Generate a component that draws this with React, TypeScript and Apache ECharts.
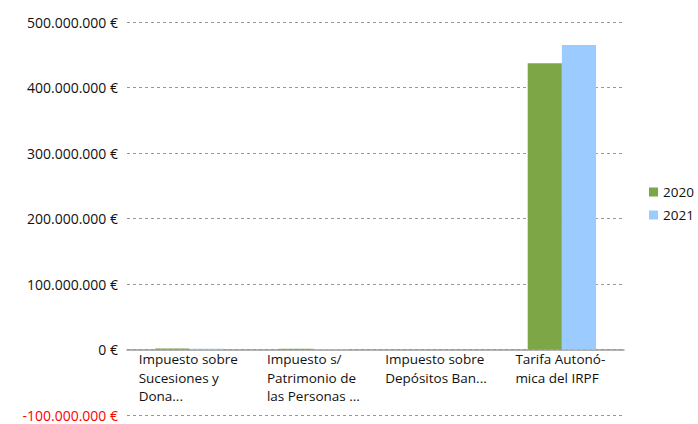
import React, { useEffect, useRef } from "react";
import * as echarts from "echarts";

const categories = [
  ["Impuesto sobre", "Sucesiones y", "Dona..."],
  ["Impuesto s/", "Patrimonio de", "las Personas ..."],
  ["Impuesto sobre", "Depósitos Ban..."],
  ["Tarifa Autonó-", "mica del IRPF"],
];
const seriesNames = ["2020", "2021"];
const values2020 = [1500000, 1200000, 0, 437000000];
const values2021 = [1000000, 800000, 0, 465000000];
const yTicks = { min: -100000000, max: 500000000, interval: 100000000 };

const FONT = "Open Sans";

function fmt(v: number): string {
  const s = Math.abs(v).toString().replace(/\B(?=(\d{3})+(?!\d))/g, ".");
  return (v < 0 ? "-" : "") + s + " €";
}

const labelWidths = [101, 93, 105, 93];

export default function App() {
  const ref = useRef<HTMLDivElement>(null);
  useEffect(() => {
    if (!ref.current) return;
    const chart = echarts.init(ref.current, null, { renderer: "svg" });
    const rich: Record<string, any> = {};
    labelWidths.forEach((w, i) => {
      rich["c" + i] = {
        width: w,
        align: "left",
        fontFamily: FONT,
        fontSize: 13.5,
        color: "#111",
        lineHeight: 18.5,
      };
    });
    chart.setOption({
      animation: false,
      grid: {
        left: 127,
        right: 74,
        top: 22,
        bottom: 9,
        containLabel: false,
        outerBoundsMode: "none",
      },
      legend: {
        orient: "vertical",
        left: 644,
        top: 180,
        itemWidth: 9,
        itemHeight: 9,
        itemGap: 9,
        icon: "rect",
        textStyle: { fontFamily: FONT, fontSize: 13.5, color: "#111" },
        data: seriesNames,
      },
      xAxis: {
        type: "category",
        data: categories.map((c, i) => "" + i),
        axisTick: { show: false },
        axisLine: { lineStyle: { color: "#999", width: 1.5 } },
        axisLabel: {
          interval: 0,
          margin: -65,
          formatter: (v: string) => {
            const i = Number(v);
            return categories[i].map((l) => `{c${i}|${l}}`).join("\n");
          },
          rich,
        },
      },
      yAxis: {
        type: "value",
        min: yTicks.min,
        max: yTicks.max,
        interval: yTicks.interval,
        axisLine: { show: false },
        axisTick: { show: false },
        splitLine: { lineStyle: { color: "#999", type: [3, 3], width: 1 } },
        axisLabel: {
          margin: 9,
          formatter: (v: number) => (v < 0 ? `{neg|${fmt(v)}}` : `{pos|${fmt(v)}}`),
          rich: {
            neg: { color: "#ff0000", fontFamily: FONT, fontSize: 14 },
            pos: { color: "#111", fontFamily: FONT, fontSize: 14 },
          },
        },
      },
      series: [
        {
          name: seriesNames[0],
          type: "bar",
          data: values2020,
          itemStyle: { color: "#7DA647" },
          barGap: "0%",
          barCategoryGap: "45%",
        },
        {
          name: seriesNames[1],
          type: "bar",
          data: values2021,
          itemStyle: { color: "#9BCBFF" },
          barGap: "0%",
          barCategoryGap: "45%",
        },
      ],
    });
    return () => chart.dispose();
  }, []);
  return <div ref={ref} style={{ width: 698, height: 424, position: "absolute", left: 0, top: 0 }} />;
}
